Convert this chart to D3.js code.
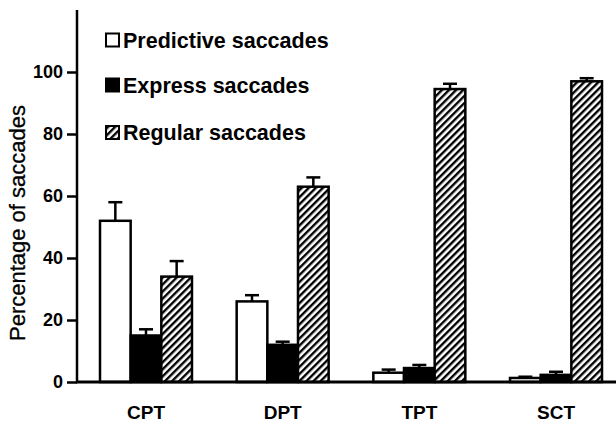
<!DOCTYPE html>
<html>
<head>
<meta charset="utf-8">
<script src="https://cdn.jsdelivr.net/npm/d3@7"></script>
<style>
  html, body { margin: 0; padding: 0; background: #fff; }
  svg { display: block; }
</style>
</head>
<body>
<svg id="chart" width="616" height="423"></svg>
<script>
const categories = ["CPT", "DPT", "TPT", "SCT"];
const seriesNames = ["Predictive saccades", "Express saccades", "Regular saccades"];
const predictive = [52, 26, 3, 1.3];
const express = [15, 12, 4.5, 2.3];
const regular = [34, 63, 94.5, 97];
const predictiveErr = [6, 2, 1, 0.4];
const expressErr = [2, 1, 1, 1];
const regularErr = [5, 3, 1.7, 1];
const yTicks = [0, 20, 40, 60, 80, 100];
const yLabel = "Percentage of saccades";

const seriesValues = [predictive, express, regular];
const seriesErrs = [predictiveErr, expressErr, regularErr];
const fills = ["#fff", "#000", "url(#hatch)"];

const svg = d3.select("#chart");
const defs = svg.append("defs");
const pat = defs.append("pattern")
  .attr("id", "hatch")
  .attr("patternUnits", "userSpaceOnUse")
  .attr("width", 5).attr("height", 5)
  .attr("patternTransform", "rotate(45)");
pat.append("rect").attr("width", 5).attr("height", 5).attr("fill", "#fff");
pat.append("line").attr("x1", 1.2).attr("y1", 0).attr("x2", 1.2).attr("y2", 5)
  .attr("stroke", "#000").attr("stroke-width", 2.4);

const y = d3.scaleLinear().domain([0, 100]).range([382, 72]);
const x0 = d3.scaleBand().domain(categories).range([59, 643]).paddingInner(0.327).paddingOuter(0.3);
const x1 = d3.scaleBand().domain(seriesNames).range([0, x0.bandwidth()]);

const font = "Liberation Sans, Arial, Helvetica, sans-serif";

const rows = [];
categories.forEach((c, i) => {
  seriesNames.forEach((s, j) => {
    rows.push({ c, s, j, v: seriesValues[j][i], e: seriesErrs[j][i] });
  });
});

const g = svg.append("g");
g.selectAll("g.err").data(rows).join("g").attr("class", "err").each(function(d) {
  const cx = x0(d.c) + x1(d.s) + x1.bandwidth() / 2;
  const sel = d3.select(this);
  sel.append("line").attr("x1", cx).attr("x2", cx)
    .attr("y1", y(d.v)).attr("y2", y(d.v + d.e))
    .attr("stroke", "#000").attr("stroke-width", 2.5);
  sel.append("line").attr("x1", cx - 7).attr("x2", cx + 7)
    .attr("y1", y(d.v + d.e)).attr("y2", y(d.v + d.e))
    .attr("stroke", "#000").attr("stroke-width", 2.5);
});

g.selectAll("rect.bar").data(rows).join("rect").attr("class", "bar")
  .attr("x", d => x0(d.c) + x1(d.s))
  .attr("width", x1.bandwidth())
  .attr("y", d => y(d.v))
  .attr("height", d => y(0) - y(d.v))
  .attr("fill", d => fills[d.j])
  .attr("stroke", "#000")
  .attr("stroke-width", 2.5);

const yAxis = d3.axisLeft(y).tickValues(yTicks).tickSize(10).tickPadding(4);
const ya = svg.append("g").attr("transform", "translate(77,0)").call(yAxis);
ya.select(".domain").remove();
ya.selectAll(".tick line").attr("stroke", "#000").attr("stroke-width", 2.5);
ya.selectAll(".tick text").attr("font-family", font).attr("font-weight", "bold")
  .attr("font-size", 18).attr("fill", "#000");
svg.append("line").attr("x1", 77).attr("x2", 77).attr("y1", 10).attr("y2", 383)
  .attr("stroke", "#000").attr("stroke-width", 2.5);

const xAxis = d3.axisBottom(x0).tickSize(0).tickPadding(24);
const xa = svg.append("g").attr("transform", "translate(0,382)").call(xAxis);
xa.select(".domain").remove();
xa.selectAll(".tick text").attr("font-family", font).attr("font-weight", "bold")
  .attr("font-size", 19).attr("fill", "#000");
svg.append("line").attr("x1", 76).attr("x2", 616).attr("y1", 382).attr("y2", 382)
  .attr("stroke", "#000").attr("stroke-width", 3);

svg.append("text")
  .attr("transform", "translate(25,223) rotate(-90)")
  .attr("text-anchor", "middle")
  .attr("font-family", font).attr("font-size", 22).attr("fill", "#000")
  .attr("stroke", "#000").attr("stroke-width", 0.3)
  .text(yLabel);

const legY = [40, 85, 132.5];
const leg = svg.append("g");
seriesNames.forEach((s, j) => {
  leg.append("rect").attr("x", 106).attr("y", legY[j] - 6.5).attr("width", 13).attr("height", 13)
    .attr("fill", fills[j]).attr("stroke", "#000").attr("stroke-width", 2);
  leg.append("text").attr("x", 123).attr("y", legY[j]).attr("dy", "0.36em")
    .attr("font-family", font).attr("font-weight", "bold").attr("font-size", 21.5)
    .attr("fill", "#000").text(s);
});
</script>
</body>
</html>
